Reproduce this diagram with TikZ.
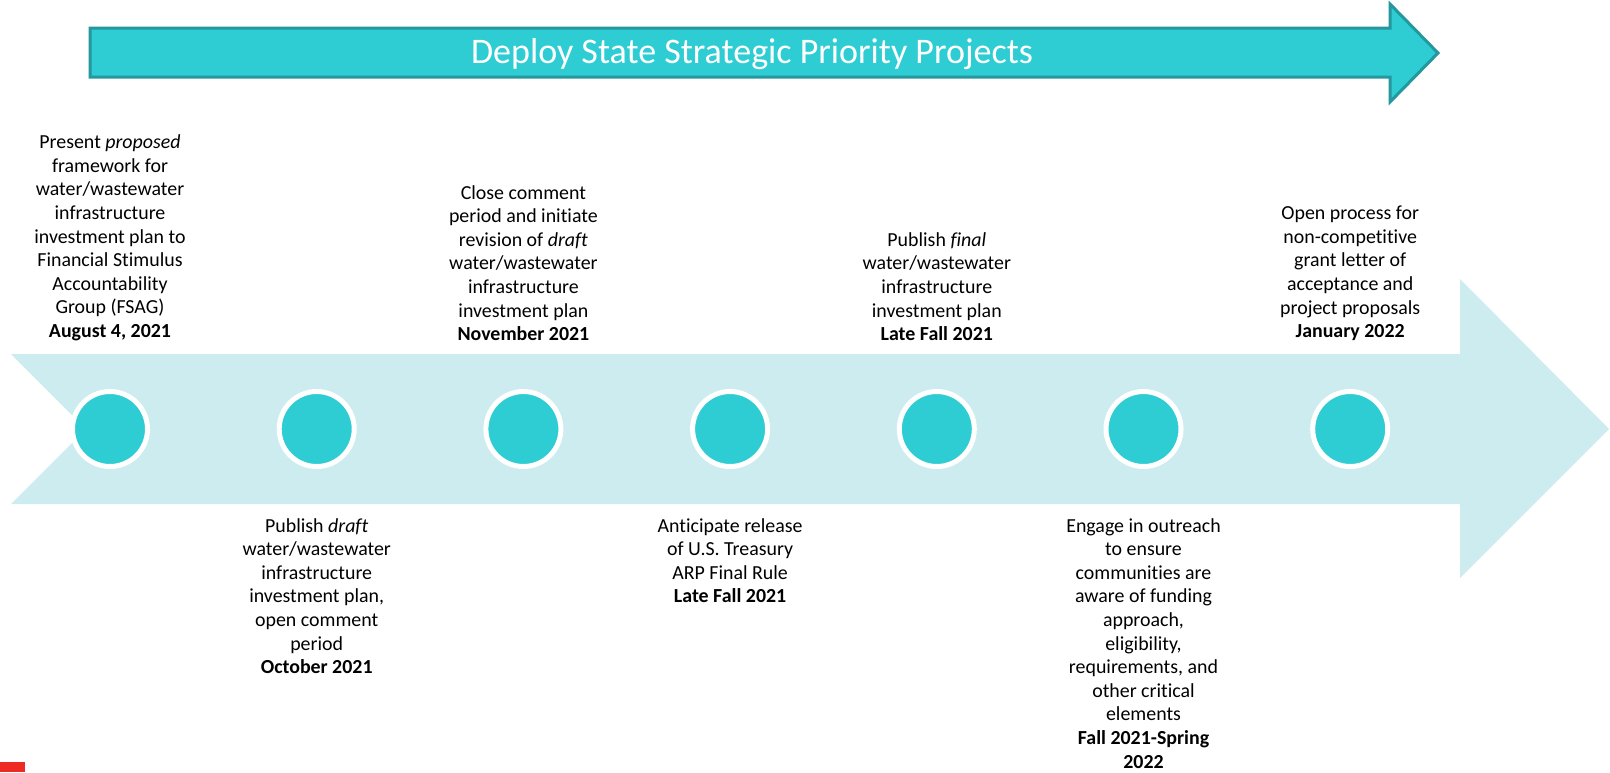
\documentclass[tikz,border=0pt]{standalone}
\usepackage{fontspec}
\setmainfont{Carlito}[Ligatures={NoCommon}]
\usetikzlibrary{positioning}
\definecolor{tealdot}{HTML}{2ECCD3}
\definecolor{tealedge}{HTML}{25979F}
\definecolor{tealpale}{HTML}{CDECEF}
\definecolor{redmark}{HTML}{EE2A24}
\begin{document}
\begin{tikzpicture}[x=1pt,y=-1pt,
    dot/.style={circle,fill=tealdot,draw=white,line width=5pt,minimum size=75pt,inner sep=0pt},
    note/.style={align=center,inner sep=0pt,font=\fontsize{19.9}{23.6}\selectfont}]
  \useasboundingbox (0,0) rectangle (1610,772);
  % top arrow
  \draw[fill=tealdot,draw=tealedge,line width=3pt,line join=miter]
    (90,28) -- (1390,28) -- (1390,4) -- (1438,53) -- (1390,102) -- (1390,77) -- (90,77) -- cycle;
  \node[text=white,font=\fontsize{36}{41}\selectfont] (title) at (752,54) {Deploy State Strategic Priority Projects};
  % time band
  \fill[tealpale] (11,354) -- (1460,354) -- (1460,279) -- (1609,429) -- (1460,578)
    -- (1460,504) -- (11,504) -- (86,429) -- cycle;
  \foreach \i in {1,...,7}
    \node[dot] (m\i) at ({110+206.7*(\i-1)},429) {};
  % notes above
  \node[note,above=48pt of m1] (t1) {Present \textit{proposed}\\framework for\\water/wastewater\\infrastructure\\investment plan to\\Financial Stimulus\\Accountability\\Group (FSAG)\\\textbf{August 4, 2021}};
  \node[note,above=48pt of m3] (t3) {Close comment\\period and initiate\\revision of \textit{draft}\\water/wastewater\\infrastructure\\investment plan\\\textbf{November 2021}};
  \node[note,above=48pt of m5] (t5) {Publish \textit{final}\\water/wastewater\\infrastructure\\investment plan\\\textbf{Late Fall 2021}};
  \node[note,above=48pt of m7] (t7) {Open process for\\non-competitive\\grant letter of\\acceptance and\\project proposals\\\textbf{January 2022}};
  % notes below
  \node[note,below=49pt of m2] (t2) {Publish \textit{draft}\\water/wastewater\\infrastructure\\investment plan,\\open comment\\period\\\textbf{October 2021}};
  \node[note,below=49pt of m4] (t4) {Anticipate release\\of U.S. Treasury\\ARP Final Rule\\\textbf{Late Fall 2021}};
  \node[note,below=49pt of m6] (t6) {Engage in outreach\\to ensure\\communities are\\aware of funding\\approach,\\eligibility,\\requirements, and\\other critical\\elements\\\textbf{Fall 2021-Spring}\\\textbf{2022}};
  \fill[redmark] (0,762) rectangle (25,772);
\end{tikzpicture}
\end{document}
